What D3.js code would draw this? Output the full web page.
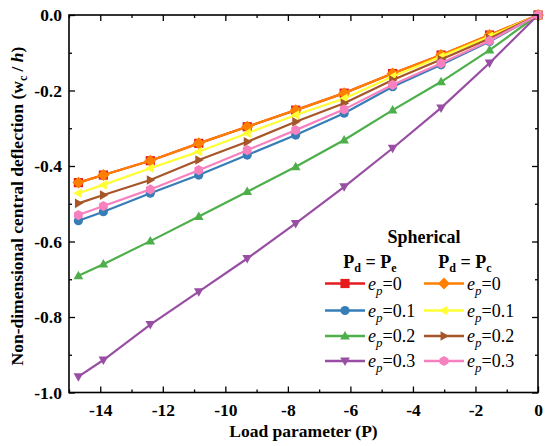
<!DOCTYPE html>
<html>
<head>
<meta charset="utf-8">
<script src="https://cdn.jsdelivr.net/npm/d3@7"></script>
<style>
  html, body { margin: 0; padding: 0; background: #fff; }
  svg { display: block; }
  svg text { font-family: "Liberation Serif", "Times New Roman", "DejaVu Serif", serif !important; }
</style>
</head>
<body>
<svg id="chart" width="547" height="446"></svg>
<script>
// Load parameter values at which the deflection was computed
const loads = [-14.7, -13.9, -12.4, -10.85, -9.3, -7.75, -6.2, -4.65, -3.1, -1.55, 0];

// Non-dimensional central deflection, P_d = P_e
const pe_e0  = [-0.444, -0.424, -0.386, -0.340, -0.296, -0.252, -0.207, -0.155, -0.106, -0.053, 0];
const pe_e01 = [-0.545, -0.521, -0.472, -0.424, -0.371, -0.318, -0.260, -0.190, -0.132, -0.070, 0];
const pe_e02 = [-0.691, -0.660, -0.599, -0.534, -0.468, -0.402, -0.331, -0.252, -0.177, -0.093, 0];
const pe_e03 = [-0.958, -0.914, -0.820, -0.733, -0.645, -0.552, -0.455, -0.353, -0.246, -0.127, 0];

// Non-dimensional central deflection, P_d = P_c
const pc_e0  = [-0.444, -0.424, -0.386, -0.340, -0.296, -0.252, -0.207, -0.155, -0.106, -0.053, 0];
const pc_e01 = [-0.472, -0.450, -0.406, -0.362, -0.313, -0.265, -0.221, -0.163, -0.110, -0.057, 0];
const pc_e02 = [-0.499, -0.477, -0.437, -0.384, -0.336, -0.283, -0.234, -0.172, -0.118, -0.062, 0];
const pc_e03 = [-0.530, -0.506, -0.462, -0.411, -0.358, -0.305, -0.250, -0.185, -0.128, -0.068, 0];

const xTicks = [-14, -12, -10, -8, -6, -4, -2, 0];
const yTicks = [0, -0.2, -0.4, -0.6, -0.8, -1.0];
const epLabels = ["0", "0.1", "0.2", "0.3"];

const series = [
  { values: pe_e0,  color: "#e41a1c", symbol: "square",   col: 0, row: 0 },
  { values: pe_e01, color: "#377eb8", symbol: "circle",   col: 0, row: 1 },
  { values: pe_e02, color: "#4daf4a", symbol: "triUp",    col: 0, row: 2 },
  { values: pe_e03, color: "#984ea3", symbol: "triDown",  col: 0, row: 3 },
  { values: pc_e0,  color: "#ff7f00", symbol: "diamond",  col: 1, row: 0 },
  { values: pc_e01, color: "#ffff33", symbol: "triLeft",  col: 1, row: 1 },
  { values: pc_e02, color: "#a65628", symbol: "triRight", col: 1, row: 2 },
  { values: pc_e03, color: "#f781bf", symbol: "hexagon",  col: 1, row: 3 }
];

const FONT = "'Liberation Serif', 'Times New Roman', 'DejaVu Serif', serif";
const svg = d3.select("#chart").attr("font-family", FONT);
const plot = { left: 69, right: 538, top: 15, bottom: 392.5 };

const x = d3.scaleLinear().domain([-15, 0]).range([plot.left, plot.right]);
const y = d3.scaleLinear().domain([-1, 0]).range([plot.bottom, plot.top]);

// marker path generator, r ~ half width
function markerPath(sym, r) {
  switch (sym) {
    case "square": return `M${-r},${-r}H${r}V${r}H${-r}Z`;
    case "circle": return d3.symbol(d3.symbolCircle, Math.PI * r * r)();
    case "triUp": return `M0,${-r * 1.1}L${r * 1.05},${r * 0.75}L${-r * 1.05},${r * 0.75}Z`;
    case "triDown": return `M0,${r * 1.1}L${r * 1.05},${-r * 0.75}L${-r * 1.05},${-r * 0.75}Z`;
    case "triLeft": return `M${-r * 1.1},0L${r * 0.75},${-r * 1.05}L${r * 0.75},${r * 1.05}Z`;
    case "triRight": return `M${r * 1.1},0L${-r * 0.75},${-r * 1.05}L${-r * 0.75},${r * 1.05}Z`;
    case "diamond": return `M0,${-r * 1.3}L${r * 1.3},0L0,${r * 1.3}L${-r * 1.3},0Z`;
    case "hexagon": {
      const pts = d3.range(6).map(i => {
        const a = Math.PI / 6 + i * Math.PI / 3;
        return [r * 1.1 * Math.cos(a), r * 1.1 * Math.sin(a)];
      });
      return "M" + pts.map(p => p.join(",")).join("L") + "Z";
    }
  }
}

// Axes: ticks point inward on all four sides
const fmtY = d => d3.format(".1f")(d).replace("−", "-");
const xMinor = d3.range(-15, 0.01, 1);
const yMinor = d3.range(-1, 0.001, 0.1);

function drawAxis(axis, transform, cls) {
  const g = svg.append("g").attr("class", cls).attr("transform", transform).call(axis);
  g.attr("font-family", FONT);
  g.select(".domain").remove();
  g.selectAll(".tick line").attr("stroke", "#000").attr("stroke-width", 1.3);
  return g;
}

// major ticks
const bottomAx = drawAxis(d3.axisBottom(x).tickValues(xTicks).tickSize(-6).tickPadding(11)
  .tickFormat(d => String(d).replace("−", "-")), `translate(0,${plot.bottom})`, "xaxis");
bottomAx.selectAll("text").attr("font-size", 17.5).attr("font-weight", "bold").attr("fill", "#000")
  .style("font-family", FONT);
drawAxis(d3.axisTop(x).tickValues(xTicks).tickSize(-6).tickFormat(""), `translate(0,${plot.top})`, "xtop");
const leftAx = drawAxis(d3.axisLeft(y).tickValues(yTicks).tickSize(-6).tickPadding(7).tickFormat(fmtY),
  `translate(${plot.left},0)`, "yaxis");
leftAx.selectAll("text").attr("font-size", 17.5).attr("font-weight", "bold").attr("fill", "#000")
  .style("font-family", FONT);
drawAxis(d3.axisRight(y).tickValues(yTicks).tickSize(-6).tickFormat(""), `translate(${plot.right},0)`, "yright");

// minor ticks
const xMinorOnly = xMinor.filter(v => !xTicks.includes(v));
drawAxis(d3.axisBottom(x).tickValues(xMinorOnly).tickSize(-3).tickFormat(""), `translate(0,${plot.bottom})`, "xminor");
drawAxis(d3.axisTop(x).tickValues(xMinorOnly).tickSize(-3).tickFormat(""), `translate(0,${plot.top})`, "xminortop");
const yMinorOnly = yMinor.filter(v => !yTicks.some(t => Math.abs(t - v) < 1e-6));
drawAxis(d3.axisLeft(y).tickValues(yMinorOnly).tickSize(-3).tickFormat(""), `translate(${plot.left},0)`, "yminor");
drawAxis(d3.axisRight(y).tickValues(yMinorOnly).tickSize(-3).tickFormat(""), `translate(${plot.right},0)`, "yminorright");

// series lines and markers
const line = d3.line().x((d, i) => x(loads[i])).y(d => y(d));
series.forEach(s => {
  const g = svg.append("g");
  g.append("path").datum(s.values).attr("d", line)
    .attr("fill", "none").attr("stroke", s.color).attr("stroke-width", 2.2);
  g.selectAll("path.m").data(s.values).join("path").attr("class", "m")
    .attr("transform", (d, i) => `translate(${x(loads[i])},${y(d)})`)
    .attr("d", markerPath(s.symbol, 4.6))
    .attr("fill", s.color);
});

// frame
svg.append("rect").attr("x", plot.left).attr("y", plot.top)
  .attr("width", plot.right - plot.left).attr("height", plot.bottom - plot.top)
  .attr("fill", "none").attr("stroke", "#000").attr("stroke-width", 1.6);

// axis titles
svg.append("text").attr("x", (plot.left + plot.right) / 2).attr("y", 437)
  .attr("text-anchor", "middle").attr("font-size", 17.5).attr("font-weight", "bold")
  .text("Load parameter (P)");

const yt = svg.append("text").attr("transform", "translate(23,206) rotate(-90)")
  .attr("text-anchor", "middle").attr("font-size", 17.5).attr("font-weight", "bold");
yt.append("tspan").text("Non-dimensional central deflection (w");
yt.append("tspan").attr("font-size", 12).attr("dy", 4).text("c");
yt.append("tspan").attr("dy", -4).text(" / ");
yt.append("tspan").attr("font-style", "italic").text("h");
yt.append("tspan").text(")");

// legend
const legend = svg.append("g");
legend.append("text").attr("x", 424).attr("y", 243).attr("text-anchor", "middle")
  .attr("font-size", 18).attr("font-weight", "bold").text("Spherical");

const colX = [345, 444];
const headerX = [370, 465];
const headerSubs = ["e", "c"];
headerX.forEach((hx, c) => {
  const t = legend.append("text").attr("x", hx).attr("y", 268).attr("text-anchor", "middle")
    .attr("font-size", 18).attr("font-weight", "bold");
  t.append("tspan").text("P");
  t.append("tspan").attr("font-size", 12).attr("dy", 4).text("d");
  t.append("tspan").attr("dy", -4).text(" = P");
  t.append("tspan").attr("font-size", 12).attr("dy", 4).text(headerSubs[c]);
});

const rowY = [283.5, 310.5, 336, 361];
series.forEach(s => {
  const cx = colX[s.col], cy = rowY[s.row];
  legend.append("line").attr("x1", cx - 20).attr("x2", cx + 20).attr("y1", cy).attr("y2", cy)
    .attr("stroke", s.color).attr("stroke-width", 2.4);
  legend.append("path").attr("transform", `translate(${cx},${cy})`)
    .attr("d", markerPath(s.symbol, 4.6)).attr("fill", s.color);
  const t = legend.append("text").attr("x", cx + 23).attr("y", cy + 6).attr("font-size", 18);
  t.append("tspan").attr("font-style", "italic").text("e");
  t.append("tspan").attr("font-style", "italic").attr("font-size", 13).attr("dy", 5).text("p");
  t.append("tspan").attr("dy", -5).text("=" + epLabels[s.row]);
});
</script>
</body>
</html>
